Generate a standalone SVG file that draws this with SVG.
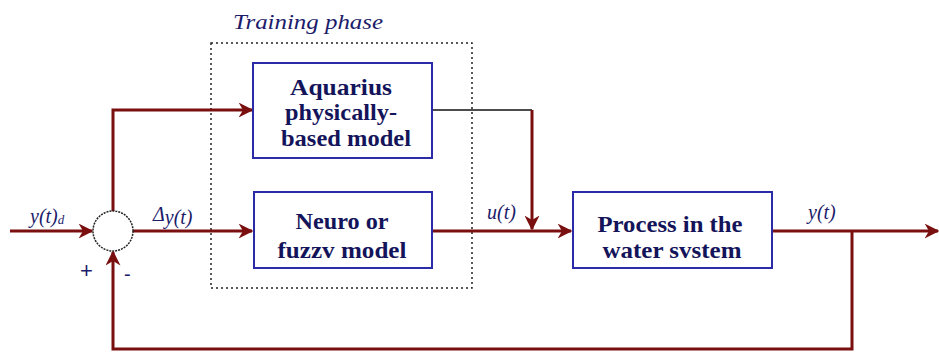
<svg xmlns="http://www.w3.org/2000/svg" width="939" height="352" viewBox="0 0 939 352">
<style>
.box{fill:#fff;stroke:#2b2ba8;stroke-width:2}
.bt{font-family:'Liberation Serif','Times New Roman','DejaVu Serif',serif;font-weight:bold;font-size:24px;fill:#14145a;text-anchor:middle}
.lb{font-family:'Liberation Serif','Times New Roman','DejaVu Serif',serif;font-style:italic;font-size:20px;fill:#1c1c6a}
.wire{fill:none;stroke:#7a0f0f;stroke-width:3}
</style>
<defs>
<marker id="ah" viewBox="0 0 10 10" refX="9" refY="5" markerWidth="5" markerHeight="5" orient="auto" markerUnits="strokeWidth">
<path d="M0,0 L10,5 L0,10 L3,5 Z" fill="#7a0f0f"/>
</marker>
</defs>
<rect width="939" height="352" fill="#fff"/>
<g id="training-phase">
<rect x="211" y="43" width="261" height="245" fill="none" stroke="#222" stroke-width="1.5" stroke-dasharray="2,3"/>
<text class="lb" x="233" y="29" font-size="22" textLength="150" lengthAdjust="spacingAndGlyphs">Training phase</text>
</g>
<g id="connectors">
<line class="wire" x1="10" y1="231" x2="92" y2="231" marker-end="url(#ah)"/>
<polyline class="wire" points="113,211 113,110 252,110" marker-end="url(#ah)"/>
<line class="wire" x1="133" y1="231" x2="252" y2="231" marker-end="url(#ah)"/>
<line x1="432" y1="110" x2="532" y2="110" stroke="#111" stroke-width="1.5"/>
<line class="wire" x1="532" y1="110" x2="532" y2="229" marker-end="url(#ah)"/>
<line class="wire" x1="432" y1="231" x2="571" y2="231" marker-end="url(#ah)"/>
<line class="wire" x1="772" y1="231" x2="938" y2="231" marker-end="url(#ah)"/>
<polyline class="wire" points="852,231 852,349 113,349 113,252" marker-end="url(#ah)"/>
</g>
<g id="sum">
<circle cx="113" cy="231" r="20" fill="#fff" stroke="#222" stroke-width="1.5" stroke-dasharray="2,1"/>
<text x="80" y="278" font-family="'Liberation Sans',Arial,sans-serif" font-size="22" fill="#1c1c6a">+</text>
<text x="124" y="281" font-family="'Liberation Sans',Arial,sans-serif" font-size="20" fill="#1c1c6a">-</text>
</g>
<g id="aquarius">
<rect class="box" x="253" y="63" width="179" height="95"/>
<text class="bt" x="341" y="95" font-size="19" textLength="102" lengthAdjust="spacingAndGlyphs">Aquarius</text>
<text class="bt" x="341" y="120" font-size="19" textLength="112" lengthAdjust="spacingAndGlyphs">physically-</text>
<text class="bt" x="346" y="146" font-size="19" textLength="130" lengthAdjust="spacingAndGlyphs">based model</text>
</g>
<g id="neuro">
<rect class="box" x="254" y="192" width="178" height="76"/>
<text class="bt" x="342" y="229" textLength="93" lengthAdjust="spacingAndGlyphs">Neuro or</text>
<text class="bt" x="342" y="258" textLength="129" lengthAdjust="spacingAndGlyphs">fuzzv model</text>
</g>
<g id="process">
<rect class="box" x="573" y="192" width="199" height="76"/>
<text class="bt" x="670" y="232" textLength="145" lengthAdjust="spacingAndGlyphs">Process in the</text>
<text class="bt" x="672" y="258" textLength="139" lengthAdjust="spacingAndGlyphs">water svstem</text>
</g>
<g id="labels">
<text class="lb" x="30" y="223">y(t)<tspan font-size="13" dy="1">d</tspan></text>
<text class="lb" x="153" y="221">Δ<tspan dy="3">y(t)</tspan></text>
<text class="lb" x="487" y="219">u(t)</text>
<text class="lb" x="808" y="219">y(t)</text>
</g>
</svg>
